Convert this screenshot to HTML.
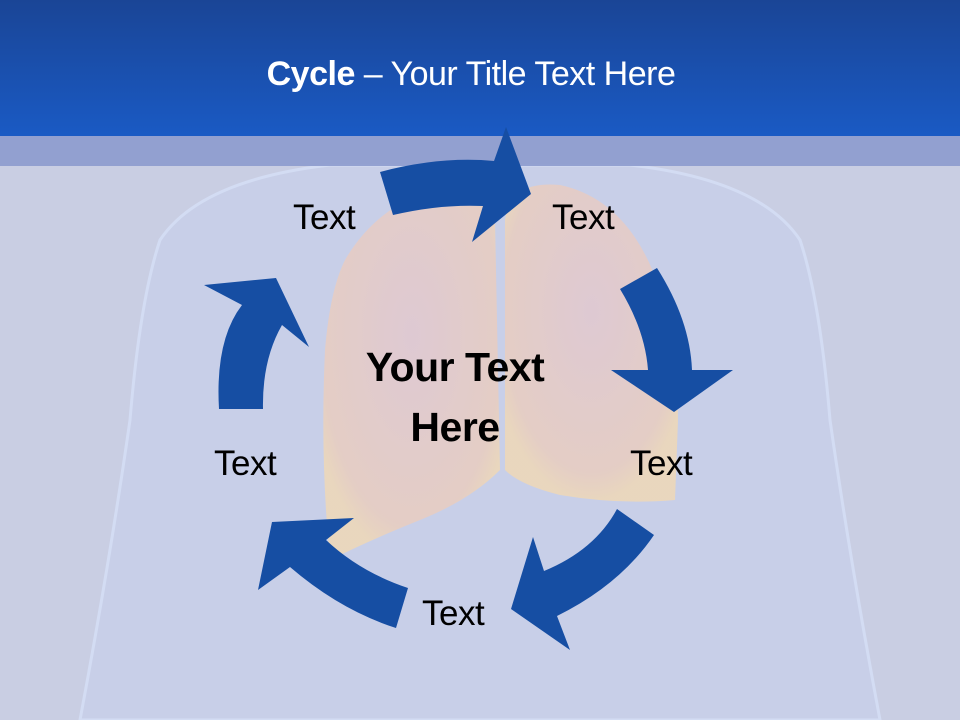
<!DOCTYPE html>
<html><head><meta charset="utf-8"><style>
html,body{margin:0;padding:0}
body{width:960px;height:720px;position:relative;overflow:hidden;background:#c9cee3;font-family:"Liberation Sans",sans-serif}
.t{position:absolute;font-family:"Liberation Sans",sans-serif;font-size:35px;color:#000;white-space:nowrap;letter-spacing:-0.5px}
</style></head><body>
<svg width="960" height="720" style="position:absolute;left:0;top:0">
<defs>
<linearGradient id="hd" x1="0" y1="0" x2="0" y2="1"><stop offset="0" stop-color="#1a4596"/><stop offset="1" stop-color="#1a5ac4"/></linearGradient>
<radialGradient id="lung" cx="0.5" cy="0.4" r="0.6"><stop offset="0" stop-color="#e2c8cf"/><stop offset="0.85" stop-color="#e9cdbf"/><stop offset="1" stop-color="#efd8b6"/></radialGradient>
</defs>
<rect x="0" y="0" width="960" height="720" fill="#c9cee3"/>
<!-- torso -->
<path d="M80,720 Q110,560 130,420 Q140,300 160,240 Q200,180 330,165 L630,165 Q760,180 800,240 Q820,300 830,420 Q850,560 880,720 Z" fill="#c8d0ea" stroke="#d6e0f8" stroke-width="3" opacity="0.8"/>
<!-- lungs -->
<path d="M345,260 Q380,200 450,185 Q490,180 495,220 L500,470 Q470,500 420,520 Q370,540 330,560 Q320,460 325,350 Q330,290 345,260 Z" fill="url(#lung)" opacity="0.85"/>
<path d="M505,220 Q510,180 560,185 Q630,200 660,290 Q678,350 678,420 L675,500 Q620,505 560,495 Q520,485 505,470 Z" fill="url(#lung)" opacity="0.85"/>
<!-- header -->
<rect x="0" y="0" width="960" height="136" fill="url(#hd)"/>
<rect x="0" y="136" width="960" height="30" fill="#8f9dcf" opacity="0.95"/>
<!-- arrows -->
<g fill="#164ea3">
<path d="M380,172 Q440,156 494,161 L506,127 L531,194 L472,242 L483,206 Q440,204 393,215 Z"/>
<path d="M620,289 L657,268 Q690,320 692,370 L733,370 L674,412 L611,370 L648,370 Q645,330 620,289 Z"/>
<path d="M617,509 L654,535 Q620,585 557,616 L570,650 L511,609 L533,537 L544,571 Q595,550 617,509 Z"/>
<path d="M408,588 Q360,572 326,540 L354,518 L272,522 L258,590 L290,567 Q340,610 396,628 Z"/>
<path d="M219,409 Q215,340 242,305 L204,285 L276,278 L309,347 L282,325 Q262,360 263,409 Z"/>
</g>
</svg>
<div class="t" style="left:0;width:942px;top:55px;text-align:center;color:#fff;font-size:34px"><b>Cycle</b> – Your Title Text Here</div>
<div class="t" style="left:293px;top:198px">Text</div>
<div class="t" style="left:552px;top:198px">Text</div>
<div class="t" style="left:214px;top:444px">Text</div>
<div class="t" style="left:630px;top:444px">Text</div>
<div class="t" style="left:422px;top:594px">Text</div>
<div class="t" style="left:330px;top:337px;width:250px;text-align:center;font-weight:bold;font-size:41px;line-height:60px">Your Text<br>Here</div>
</body></html>
